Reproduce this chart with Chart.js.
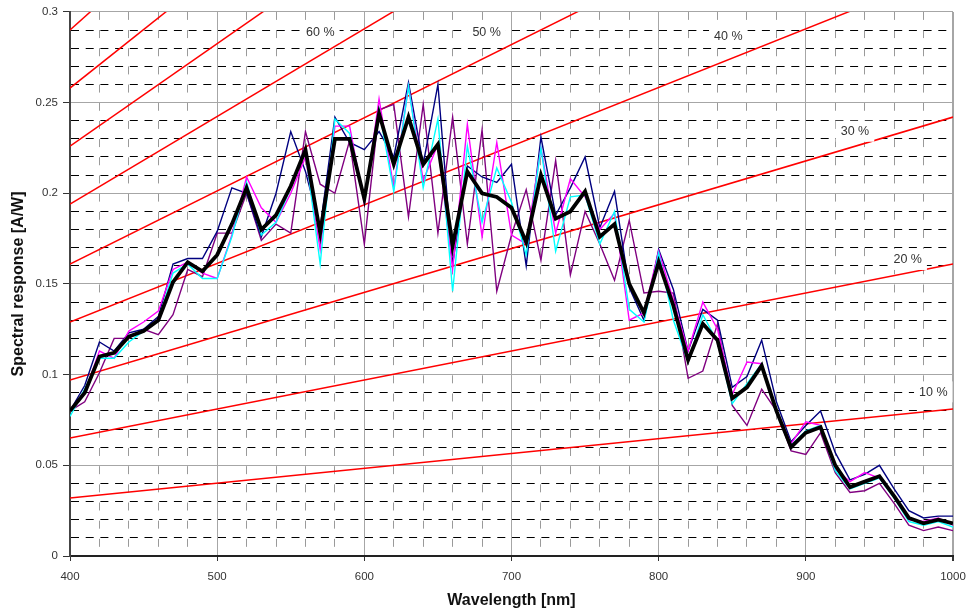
<!DOCTYPE html>
<html>
<head>
<meta charset="utf-8">
<title>Spectral response</title>
<script src="https://cdn.jsdelivr.net/npm/chart.js@4.4.1/dist/chart.umd.min.js"></script>
<style>
  html, body { margin: 0; padding: 0; background: #fff; }
  #wrap { width: 969px; height: 614px; position: relative; }
</style>
</head>
<body>
<div id="wrap"><canvas id="srChart"></canvas></div>
<script>
const FONT = '"Liberation Sans", Arial, sans-serif';

// wavelength [nm]
const wavelengths = [400, 410, 420, 430, 440, 450, 460, 470, 480, 490,
  500, 510, 520, 530, 540, 550, 560, 570, 580, 590,
  600, 610, 620, 630, 640, 650, 660, 670, 680, 690,
  700, 710, 720, 730, 740, 750, 760, 770, 780, 790,
  800, 810, 820, 830, 840, 850, 860, 870, 880, 890,
  900, 910, 920, 930, 940, 950, 960, 970, 980, 990, 1000];

// spectral response [A/W]
const srAverage = [0.080, 0.090, 0.110, 0.112, 0.121, 0.124, 0.130, 0.151, 0.162, 0.157,
  0.166, 0.183, 0.203, 0.180, 0.188, 0.204, 0.224, 0.178, 0.230, 0.230,
  0.197, 0.244, 0.216, 0.242, 0.216, 0.227, 0.171, 0.212, 0.200, 0.198,
  0.192, 0.173, 0.210, 0.186, 0.190, 0.201, 0.176, 0.183, 0.150, 0.134,
  0.162, 0.138, 0.108, 0.128, 0.119, 0.087, 0.093, 0.105, 0.080, 0.060,
  0.068, 0.071, 0.050, 0.038, 0.041, 0.044, 0.033, 0.021, 0.018, 0.020, 0.018];

const srNavy = [0.080, 0.094, 0.118, 0.113, 0.123, 0.125, 0.132, 0.161, 0.164, 0.164,
  0.179, 0.203, 0.200, 0.176, 0.200, 0.234, 0.212, 0.181, 0.242, 0.228,
  0.224, 0.234, 0.220, 0.261, 0.216, 0.260, 0.161, 0.215, 0.209, 0.206,
  0.216, 0.160, 0.231, 0.188, 0.203, 0.220, 0.181, 0.201, 0.148, 0.130,
  0.169, 0.147, 0.113, 0.136, 0.130, 0.093, 0.099, 0.119, 0.085, 0.063,
  0.072, 0.080, 0.057, 0.042, 0.045, 0.050, 0.037, 0.025, 0.021, 0.022, 0.022];

const srMagenta = [0.080, 0.090, 0.113, 0.109, 0.124, 0.129, 0.135, 0.158, 0.162, 0.156,
  0.153, 0.177, 0.209, 0.192, 0.184, 0.200, 0.220, 0.169, 0.237, 0.237,
  0.194, 0.252, 0.203, 0.259, 0.207, 0.227, 0.158, 0.238, 0.176, 0.228,
  0.177, 0.172, 0.225, 0.178, 0.208, 0.198, 0.180, 0.189, 0.130, 0.134,
  0.168, 0.141, 0.113, 0.140, 0.125, 0.089, 0.107, 0.106, 0.080, 0.062,
  0.074, 0.072, 0.048, 0.041, 0.046, 0.043, 0.033, 0.020, 0.019, 0.021, 0.017];

const srCyan = [0.077, 0.092, 0.109, 0.109, 0.118, 0.124, 0.130, 0.156, 0.161, 0.153,
  0.153, 0.176, 0.206, 0.177, 0.184, 0.203, 0.223, 0.161, 0.241, 0.233,
  0.196, 0.246, 0.201, 0.259, 0.203, 0.241, 0.146, 0.226, 0.184, 0.214,
  0.195, 0.166, 0.225, 0.168, 0.198, 0.199, 0.172, 0.190, 0.136, 0.129,
  0.167, 0.130, 0.107, 0.133, 0.118, 0.084, 0.095, 0.106, 0.080, 0.061,
  0.069, 0.072, 0.047, 0.037, 0.040, 0.043, 0.032, 0.019, 0.017, 0.019, 0.016];

const srPurple = [0.080, 0.085, 0.101, 0.120, 0.120, 0.125, 0.122, 0.133, 0.158, 0.154,
  0.178, 0.178, 0.200, 0.174, 0.183, 0.178, 0.234, 0.205, 0.200, 0.229,
  0.172, 0.246, 0.249, 0.187, 0.249, 0.178, 0.242, 0.172, 0.235, 0.146,
  0.177, 0.202, 0.163, 0.218, 0.155, 0.190, 0.172, 0.152, 0.185, 0.145,
  0.146, 0.145, 0.098, 0.102, 0.128, 0.083, 0.072, 0.092, 0.080, 0.058,
  0.056, 0.068, 0.046, 0.035, 0.036, 0.040, 0.029, 0.017, 0.014, 0.016, 0.014];

// quantum efficiency iso-lines: value at 400 nm and at 1000 nm (clipped at 0.3)
const effLevels = [10, 20, 30, 40, 50, 60, 70, 80, 90];
const effAt400 = [0.032, 0.065, 0.097, 0.129, 0.161, 0.194, 0.226, 0.258, 0.290];
const effAt1000 = [0.081, 0.161, 0.242, 0.323, 0.403, 0.484, 0.565, 0.645, 0.726];

// iso-line labels, anchored in data units
const isoLabels = ['10 %', '20 %', '30 %', '40 %', '50 %', '60 %'];
const isoLabelX = [986.6, 969.2, 933.4, 847.3, 683.1, 570.1];
const isoLabelY = [0.0905, 0.1635, 0.2342, 0.2865, 0.2887, 0.2887];

const pts = arr => wavelengths.map((w, i) => ({ x: w, y: arr[i] }));
const isMajorX = v => Math.round(v) % 100 === 0;
const isMajorY = v => Math.round(v * 1000) % 50 === 0;

const datasets = [
  { label: 'Average', data: pts(srAverage), borderColor: '#000000', borderWidth: 3.8, order: 0 },
  { label: 'Cyan', data: pts(srCyan), borderColor: '#00ffff', borderWidth: 1.4, order: 1 },
  { label: 'Magenta', data: pts(srMagenta), borderColor: '#ff00ff', borderWidth: 1.4, order: 2 },
  { label: 'Navy', data: pts(srNavy), borderColor: '#000080', borderWidth: 1.4, order: 3 },
  { label: 'Purple', data: pts(srPurple), borderColor: '#800080', borderWidth: 1.4, order: 4 }
];
effLevels.forEach((lvl, i) => {
  datasets.push({
    label: lvl + ' %',
    data: [{ x: 400, y: effAt400[i] }, { x: 1000, y: effAt1000[i] }],
    borderColor: '#ff0000',
    borderWidth: 1.5,
    order: 10
  });
});

const isoLabelPlugin = {
  id: 'isoLabels',
  afterDatasetsDraw(chart) {
    const { ctx, scales: { x, y } } = chart;
    ctx.save();
    ctx.font = '12.5px ' + FONT;
    ctx.textAlign = 'center';
    ctx.textBaseline = 'middle';
    isoLabels.forEach((lab, i) => {
      const px = x.getPixelForValue(isoLabelX[i]);
      const py = y.getPixelForValue(isoLabelY[i]);
      const w = ctx.measureText(lab).width + 10;
      ctx.fillStyle = '#ffffff';
      ctx.fillRect(px - w / 2, py - 10.5, w, 21);
      ctx.fillStyle = '#333333';
      ctx.fillText(lab, px, py + 0.5);
    });
    ctx.restore();
  }
};

new Chart(document.getElementById('srChart'), {
  type: 'line',
  data: { datasets: datasets },
  options: {
    responsive: true,
    maintainAspectRatio: false,
    animation: false,
    layout: { padding: { top: 11, right: 16, bottom: 0, left: 0 } },
    elements: {
      point: { radius: 0, hoverRadius: 0 },
      line: { tension: 0, fill: false, borderJoinStyle: 'miter' }
    },
    plugins: {
      legend: { display: false },
      tooltip: { enabled: false }
    },
    scales: {
      x: {
        type: 'linear',
        min: 400,
        max: 1000,
        // fixed axis height; the last label fits in the layout padding
        afterFit: s => { s.height = 58; s.paddingRight = 0; },
        ticks: {
          stepSize: 20,
          autoSkip: false,
          maxRotation: 0,
          padding: 9,
          color: '#333',
          font: { family: FONT, size: 11.5 },
          callback: v => isMajorX(v) ? String(v) : ''
        },
        grid: {
          color: c => (c.tick && isMajorX(c.tick.value)) ? '#a6a6a6' : '#9a9a9a',
          lineWidth: c => (c.tick && c.tick.value === 1000) ? 2 : 1,
          tickLength: 5,
          tickColor: c => (c.tick && isMajorX(c.tick.value)) ? '#333' : 'rgba(0,0,0,0)'
        },
        border: {
          color: '#222',
          width: 2,
          dash: c => (c.tick && !isMajorX(c.tick.value)) ? [8, 10.17] : []
        },
        title: {
          display: true,
          text: 'Wavelength [nm]',
          color: '#111',
          font: { family: FONT, size: 16, weight: 'bold' },
          padding: { top: 0, bottom: 4 }
        }
      },
      y: {
        min: 0,
        max: 0.3,
        afterFit: s => { s.width = 70; },
        ticks: {
          stepSize: 0.01,
          autoSkip: false,
          padding: 5,
          color: '#333',
          font: { family: FONT, size: 11.5 },
          callback: v => isMajorY(v) ? String(Math.round(v * 100) / 100) : ''
        },
        grid: {
          color: c => (c.tick && isMajorY(c.tick.value)) ? '#a6a6a6' : '#000000',
          lineWidth: 1,
          tickLength: 7,
          tickColor: c => (c.tick && isMajorY(c.tick.value)) ? '#333' : 'rgba(0,0,0,0)'
        },
        border: {
          color: '#444',
          width: 2,
          dash: c => (c.tick && !isMajorY(c.tick.value)) ? [8, 6.7] : []
        },
        title: {
          display: true,
          text: 'Spectral response [A/W]',
          color: '#111',
          font: { family: FONT, size: 16, weight: 'bold' },
          padding: { top: 9, bottom: 0 }
        }
      }
    }
  },
  plugins: [isoLabelPlugin]
});
</script>
</body>
</html>
